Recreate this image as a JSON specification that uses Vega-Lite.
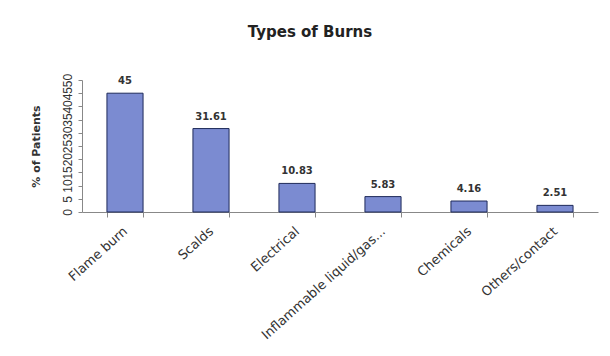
{
  "$schema": "https://vega.github.io/schema/vega-lite/v6.json",
  "autosize": "none",
  "width": 516,
  "height": 132,
  "padding": {"left": 82, "top": 80, "right": 12, "bottom": 144},
  "background": "white",
  "title": {"text": "Types of Burns", "font": "DejaVu Sans", "fontSize": 15, "fontWeight": "bold", "color": "#222", "offset": 33, "dx": -30},
  "data": {"values": [
    {"type": "Flame burn", "pct": 45, "label": "45"},
    {"type": "Scalds", "pct": 31.61, "label": "31.61"},
    {"type": "Electrical", "pct": 10.83, "label": "10.83"},
    {"type": "Inflammable liquid/gas...", "pct": 5.83, "label": "5.83"},
    {"type": "Chemicals", "pct": 4.16, "label": "4.16"},
    {"type": "Others/contact", "pct": 2.51, "label": "2.51"}
  ]},
  "encoding": {
    "x": {"field": "type", "type": "nominal", "sort": null,
      "scale": {"paddingInner": 0.58, "paddingOuter": 0.29},
      "axis": {"title": null, "labelAngle": -42, "labelAlign": "right", "labelBaseline": "middle", "labelFont": "DejaVu Sans", "labelFontSize": 13, "labelColor": "#333", "tickBand": "extent", "tickSize": 5, "tickColor": "#888", "domainColor": "#888", "labelPadding": 12}},
    "y": {"field": "pct", "type": "quantitative",
      "scale": {"domain": [0, 50]},
      "axis": {"title": "% of Patients", "titleFont": "DejaVu Sans", "titleFontSize": 11, "titleFontWeight": "bold", "titleColor": "#333", "titlePadding": 20, "values": [0,5,10,15,20,25,30,35,40,45,50], "labelAngle": -90, "labelAlign": "center", "labelBaseline": "bottom", "labelFont": "Liberation Sans", "labelFontSize": 12, "labelColor": "#333", "labelPadding": 4, "labelOverlap": false, "grid": false, "tickSize": 4, "tickColor": "#888", "domainColor": "#888"}}
  },
  "layer": [
    {"mark": {"type": "bar", "color": "#7b8bd1", "stroke": "#1f2a5a", "strokeWidth": 1}},
    {"mark": {"type": "text", "dy": -12, "font": "DejaVu Sans", "fontSize": 10, "fontWeight": "bold", "color": "#333"},
      "encoding": {"text": {"field": "label"}}}
  ],
  "config": {"view": {"stroke": null}}
}
